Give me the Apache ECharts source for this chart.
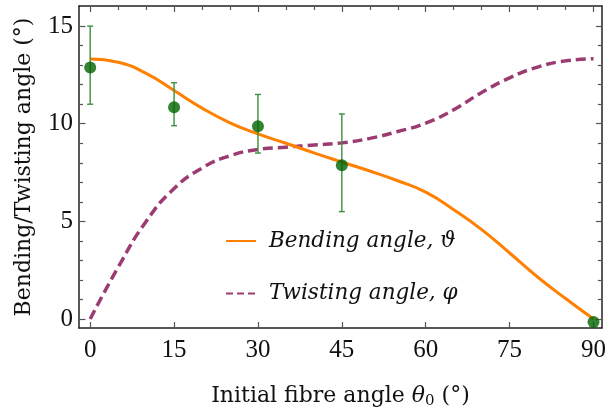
<!DOCTYPE html>
<html>
<head>
<meta charset="utf-8">
<script src="https://cdn.jsdelivr.net/npm/echarts@6/dist/echarts.min.js"></script>
<style>
  html, body { margin: 0; padding: 0; background: #fff; }
  #chart { width: 609px; height: 414px; }
</style>
</head>
<body>
<div id="chart"></div>
<script>
// Model curves, sampled every 5 degrees of initial fibre angle
const angleSamples   = [0, 5, 10, 15, 20, 25, 30, 35, 40, 45, 50, 55, 60, 65, 70, 75, 80, 85, 90];
const bendingCurve   = [13.32, 13.15, 12.58, 11.70, 10.80, 10.05, 9.48, 9.00, 8.51, 8.04, 7.58, 7.08, 6.50, 5.60, 4.58, 3.38, 2.15, 1.05, 0.00];
const twistingCurve  = [0.00, 2.65, 5.00, 6.68, 7.73, 8.36, 8.68, 8.80, 8.91, 9.02, 9.25, 9.60, 10.03, 10.72, 11.60, 12.35, 12.90, 13.22, 13.33];

// Measured bending angles with their spread
const measuredAngles = [0, 15, 30, 45, 90];
const measuredMean   = [12.88, 10.85, 9.87, 7.87, -0.15];
const measuredLow    = [11.0, 9.9, 8.5, 5.5, null];
const measuredHigh   = [15.0, 12.1, 11.5, 10.5, null];

// Tick positions
const xMajorTicks = [0, 15, 30, 45, 60, 75, 90];
const xMinorTicks = [5, 10, 20, 25, 35, 40, 50, 55, 65, 70, 80, 85];
const yMajorTicks = [0, 5, 10, 15];
const yMinorTicks = [1, 2, 3, 4, 6, 7, 8, 9, 11, 12, 13, 14];

const bendingName  = 'Bending angle, ϑ';
const twistingName = 'Twisting angle, φ';

const NUM_FONT = 'Liberation Serif';
const TEXT_FONT = 'DejaVu Serif';
const X_MIN = -2, X_MAX = 91.5, Y_MIN = -0.46, Y_MAX = 16.03;
const FRAME = '#222';
const TICK = '#555';
const BEND_COLOR = '#ff8000';
const TWIST_COLOR = '#9b3b71';

function zip(xs, ys) { return xs.map((x, i) => [x, ys[i]]); }

const errorData = measuredAngles
  .map((x, i) => [x, measuredLow[i], measuredHigh[i]])
  .filter(d => d[1] !== null && d[2] !== null);

// Axis that only contributes a row of short (minor) ticks
function minorTickAxis(position, range, values) {
  return Object.assign({
    type: 'value',
    position: position,
    axisLine: { show: false, onZero: false },
    axisLabel: { show: false },
    splitLine: { show: false },
    axisTick: { show: true, inside: true, length: 4, customValues: values, lineStyle: { color: TICK, width: 1.2 } }
  }, range);
}

const xRange = { min: X_MIN, max: X_MAX };
const yRange = { min: Y_MIN, max: Y_MAX };

const chart = echarts.init(document.getElementById('chart'), null, { renderer: 'canvas' });

chart.setOption({
  animation: false,
  backgroundColor: '#fff',
  textStyle: { fontFamily: TEXT_FONT },
  grid: { left: 79, right: 4, top: 6, bottom: 83, containLabel: false },
  legend: {
    orient: 'vertical',
    left: 225,
    top: 227,
    padding: 0,
    itemWidth: 30,
    itemHeight: 14,
    itemGap: 24.6,
    selectedMode: false,
    itemStyle: { opacity: 0 },
    data: [
      { name: bendingName },
      { name: twistingName, lineStyle: { type: [7, 4] } }
    ],
    textStyle: {
      fontFamily: TEXT_FONT, fontStyle: 'italic', fontSize: 21.5, color: '#111',
      lineHeight: 28, padding: [0, 0, 0, 8]
    }
  },
  xAxis: [
    {
      type: 'value', position: 'bottom', ...xRange,
      axisLine: { show: true, onZero: false, lineStyle: { color: FRAME, width: 1.5 } },
      axisTick: { show: true, inside: true, length: 6, customValues: xMajorTicks, lineStyle: { color: TICK, width: 1.2 } },
      axisLabel: { show: true, customValues: xMajorTicks, margin: 10, fontFamily: NUM_FONT, fontSize: 25, color: '#111' },
      splitLine: { show: false },
      name: 'Initial fibre angle {th|θ}{sub|0} (°)',
      nameLocation: 'middle',
      nameGap: 56,
      nameTextStyle: {
        fontFamily: TEXT_FONT, fontSize: 22, color: '#111',
        rich: {
          th: { fontFamily: TEXT_FONT, fontSize: 22, fontStyle: 'italic', color: '#111' },
          sub: { fontFamily: TEXT_FONT, fontSize: 15, color: '#111', padding: [10, 0, 0, 0] }
        }
      }
    },
    {
      type: 'value', position: 'top', ...xRange,
      axisLine: { show: true, onZero: false, lineStyle: { color: FRAME, width: 1.5 } },
      axisTick: { show: true, inside: true, length: 6, customValues: xMajorTicks, lineStyle: { color: TICK, width: 1.2 } },
      axisLabel: { show: false },
      splitLine: { show: false }
    },
    minorTickAxis('top', xRange, xMinorTicks)
  ],
  yAxis: [
    {
      type: 'value', position: 'left', ...yRange,
      axisLine: { show: true, onZero: false, lineStyle: { color: FRAME, width: 1.5 } },
      axisTick: { show: true, inside: true, length: 6.5, customValues: yMajorTicks, lineStyle: { color: TICK, width: 1.2 } },
      axisLabel: { show: true, customValues: yMajorTicks, margin: 6, fontFamily: NUM_FONT, fontSize: 25, color: '#111' },
      splitLine: { show: false },
      name: 'Bending/Twisting angle (°)',
      nameLocation: 'middle',
      nameGap: 44,
      nameTextStyle: { fontFamily: TEXT_FONT, fontSize: 22, color: '#111' }
    },
    minorTickAxis('left', yRange, yMinorTicks),
    {
      type: 'value', position: 'right', ...yRange,
      axisLine: { show: true, onZero: false, lineStyle: { color: FRAME, width: 1.5 } },
      axisTick: { show: true, inside: true, length: 6, customValues: yMajorTicks, lineStyle: { color: TICK, width: 1.2 } },
      axisLabel: { show: false },
      splitLine: { show: false }
    },
    minorTickAxis('right', yRange, yMinorTicks)
  ],
  series: [
    {
      name: twistingName,
      type: 'line',
      xAxisIndex: 0, yAxisIndex: 0,
      data: zip(angleSamples, twistingCurve),
      smooth: 0.5,
      symbol: 'none',
      lineStyle: { color: TWIST_COLOR, width: 3.5, type: [10, 5] },
      itemStyle: { color: TWIST_COLOR },
      z: 2
    },
    {
      name: bendingName,
      type: 'line',
      xAxisIndex: 0, yAxisIndex: 0,
      data: zip(angleSamples, bendingCurve),
      smooth: 0.5,
      symbol: 'none',
      lineStyle: { color: BEND_COLOR, width: 3 },
      itemStyle: { color: BEND_COLOR },
      z: 3
    },
    {
      name: 'spread',
      type: 'custom',
      xAxisIndex: 0, yAxisIndex: 0,
      data: errorData,
      z: 4,
      renderItem: function (params, api) {
        const x = api.value(0);
        const lo = api.coord([x, api.value(1)]);
        const hi = api.coord([x, api.value(2)]);
        const cap = 3;
        const style = { stroke: '#3c8f3c', lineWidth: 1.4 };
        return {
          type: 'group',
          children: [
            { type: 'line', shape: { x1: lo[0], y1: lo[1], x2: hi[0], y2: hi[1] }, style: style },
            { type: 'line', shape: { x1: lo[0] - cap, y1: lo[1], x2: lo[0] + cap, y2: lo[1] }, style: style },
            { type: 'line', shape: { x1: hi[0] - cap, y1: hi[1], x2: hi[0] + cap, y2: hi[1] }, style: style }
          ]
        };
      }
    },
    {
      name: 'measured',
      type: 'scatter',
      xAxisIndex: 0, yAxisIndex: 0,
      data: zip(measuredAngles, measuredMean),
      symbol: 'circle',
      symbolSize: 12,
      itemStyle: { color: '#006400' },
      z: 5
    }
  ]
});
</script>
</body>
</html>
